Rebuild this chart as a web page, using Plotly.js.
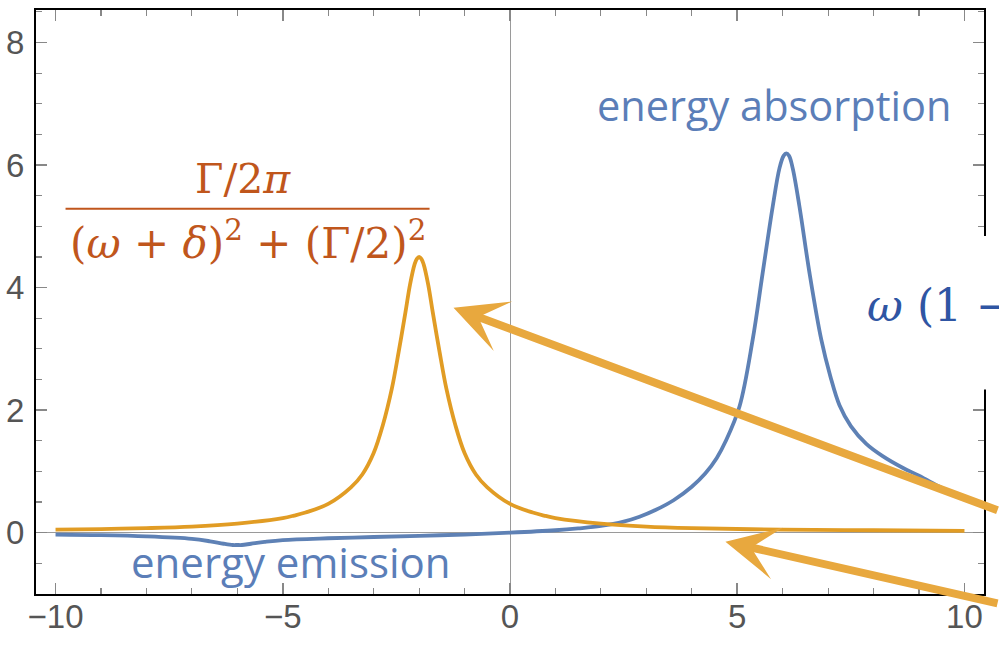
<!DOCTYPE html>
<html>
<head>
<meta charset="utf-8">
<script src="https://cdn.plot.ly/plotly-3.0.1.min.js"></script>
<style>html,body{margin:0;padding:0;background:#fff;}#chart{width:999px;height:648px;}</style>
</head>
<body>
<div id="chart"></div>
<script>
// Orange curve: Lorentzian centred near omega = -2
const xOrange = [-10, -9, -8, -7, -6, -5, -4.75, -4.5, -4, -3.5, -3.25, -3, -2.8, -2.6, -2.45, -2.3, -2.2, -2.1, -2.05, -2, -1.95, -1.9, -1.8, -1.7, -1.55, -1.4, -1.2, -1, -0.75, -0.5, 0, 0.5, 0.75, 1, 2, 3, 4, 6, 8, 10];
const yOrange = [0.05, 0.06, 0.075, 0.1, 0.15, 0.24, 0.28, 0.33, 0.47, 0.74, 0.95, 1.3, 1.75, 2.35, 2.95, 3.6, 4.05, 4.38, 4.47, 4.5, 4.47, 4.38, 4.05, 3.6, 2.95, 2.35, 1.75, 1.3, 0.95, 0.74, 0.47, 0.33, 0.28, 0.24, 0.15, 0.1, 0.075, 0.05, 0.04, 0.03];

// Blue curve: emission dip near -6, absorption peak near +6
const xBlue = [-10, -9, -8, -7, -6.6, -6.3, -6.1, -6, -5.9, -5.7, -5.4, -5, -4, -3, -2, -1, 0, 1, 1.5, 2, 2.5, 2.85, 3.2, 3.6, 4.0, 4.3, 4.55, 4.75, 5.05, 5.34, 5.56, 5.78, 5.93, 6.02, 6.08, 6.14, 6.22, 6.37, 6.59, 6.85, 7.05, 7.25, 7.5, 7.84, 8.2, 8.64, 9.0, 9.45, 10];
const yBlue = [-0.03, -0.04, -0.06, -0.1, -0.14, -0.18, -0.2, -0.2, -0.2, -0.18, -0.15, -0.12, -0.09, -0.07, -0.05, -0.03, 0, 0.04, 0.07, 0.11, 0.18, 0.26, 0.37, 0.53, 0.75, 0.97, 1.22, 1.5, 2.06, 3.15, 4.24, 5.32, 5.95, 6.15, 6.19, 6.15, 5.95, 5.32, 4.24, 3.15, 2.55, 2.08, 1.74, 1.45, 1.25, 1.06, 0.93, 0.75, 0.54];

const xTickVals = [-10, -5, 0, 5, 10];
const yTickVals = [0, 2, 4, 6, 8];
const xRange = [-10.43, 10.43];

const traces = [
  {x: xBlue, y: yBlue, mode: 'lines', line: {color: '#5E81B5', width: 3.8, shape: 'spline', smoothing: 1}, hoverinfo: 'skip'},
  {x: xOrange, y: yOrange, mode: 'lines', line: {color: '#E19C24', width: 3.8, shape: 'spline', smoothing: 1}, hoverinfo: 'skip'},
  {x: [], y: [], xaxis: 'x2', yaxis: 'y', mode: 'lines', hoverinfo: 'skip'}
];

const tickFont = {family: 'Liberation Sans, Arial, sans-serif', size: 33, color: '#555555'};
const serif = 'DejaVu Serif, Liberation Serif, serif';
const orangeText = '#C0561C';
const blueText = '#5B7EB8';
const arrowColor = '#E8A83E';

const layout = {
  width: 999, height: 648,
  margin: {l: 36, r: 15, t: 10, b: 54, pad: 0},
  paper_bgcolor: '#ffffff', plot_bgcolor: '#ffffff',
  showlegend: false,
  xaxis: {
    range: xRange, tickmode: 'array', tickvals: xTickVals, showticklabels: false,
    ticks: 'inside', ticklen: 11, tickwidth: 1.5, tickcolor: '#888888',
    minor: {dtick: 1, ticks: 'inside', ticklen: 6, tickwidth: 1.2, tickcolor: '#888888', showgrid: false},
    showline: true, linecolor: '#000000', linewidth: 2, mirror: 'ticks',
    showgrid: false, zeroline: true, zerolinecolor: '#9a9a9a', zerolinewidth: 1
  },
  xaxis2: {
    overlaying: 'x', anchor: 'free', position: 0, side: 'bottom',
    range: xRange, tickmode: 'array', tickvals: xTickVals,
    ticks: '', showline: false, showgrid: false, zeroline: false,
    tickfont: tickFont
  },
  yaxis: {
    range: [-1.0, 8.53], tickmode: 'array', tickvals: yTickVals,
    ticks: 'inside', ticklen: 11, tickwidth: 1.5, tickcolor: '#888888',
    minor: {dtick: 0.5, ticks: 'inside', ticklen: 6, tickwidth: 1.2, tickcolor: '#888888', showgrid: false},
    showline: true, linecolor: '#000000', linewidth: 2, mirror: 'ticks',
    showgrid: false, zeroline: true, zerolinecolor: '#9a9a9a', zerolinewidth: 1,
    tickfont: tickFont, ticklabelstandoff: 3
  },
  shapes: [
    {type: 'line', xref: 'x', yref: 'y', x0: -9.78, x1: -1.77, y0: 5.285, y1: 5.285, line: {color: orangeText, width: 2}},
    {type: 'rect', xref: 'paper', yref: 'paper', x0: 0.86, x1: 1.05, y0: 0.35, y1: 0.613, fillcolor: '#ffffff', line: {width: 0}, layer: 'above'}
  ],
  annotations: [
    {xref: 'x', yref: 'y', x: -5.885, y: 5.77, text: 'Γ/2<i>π</i>', showarrow: false, font: {family: serif, size: 41, color: orangeText}, xanchor: 'center', yanchor: 'middle'},
    {xref: 'x', yref: 'y', x: -5.775, y: 4.77, text: '(<i>ω</i> + <i>δ</i>)<sup>2</sup> + (Γ/2)<sup>2</sup>', showarrow: false, font: {family: serif, size: 42, color: orangeText}, xanchor: 'center', yanchor: 'middle'},
    {xref: 'x', yref: 'y', x: 5.80, y: 6.98, text: 'energy absorption', showarrow: false, font: {family: 'Open Sans, sans-serif', size: 41.5, color: blueText}, xanchor: 'center', yanchor: 'middle'},
    {xref: 'x', yref: 'y', x: -4.82, y: -0.47, text: 'energy emission', showarrow: false, font: {family: 'Open Sans, sans-serif', size: 42, color: blueText}, xanchor: 'center', yanchor: 'middle'},
    {xref: 'x', yref: 'y', x: 7.82, y: 3.70, text: '<i>ω</i> (1 −', showarrow: false, font: {family: serif, size: 44, color: '#2F55A3'}, xanchor: 'left', yanchor: 'middle'},
    {xref: 'x', yref: 'y', x: -1.243, y: 3.67, text: '', showarrow: true, arrowhead: 3, arrowsize: 1.1, arrowwidth: 8, arrowcolor: arrowColor, ax: 560, ay: 203, standoff: 0},
    {xref: 'x', yref: 'y', x: 4.74, y: -0.147, text: '', showarrow: true, arrowhead: 3, arrowsize: 1.1, arrowwidth: 8, arrowcolor: arrowColor, ax: 290, ay: 62, standoff: 0}
  ]
};

Plotly.newPlot('chart', traces, layout, {staticPlot: true, displayModeBar: false});
</script>
</body>
</html>
